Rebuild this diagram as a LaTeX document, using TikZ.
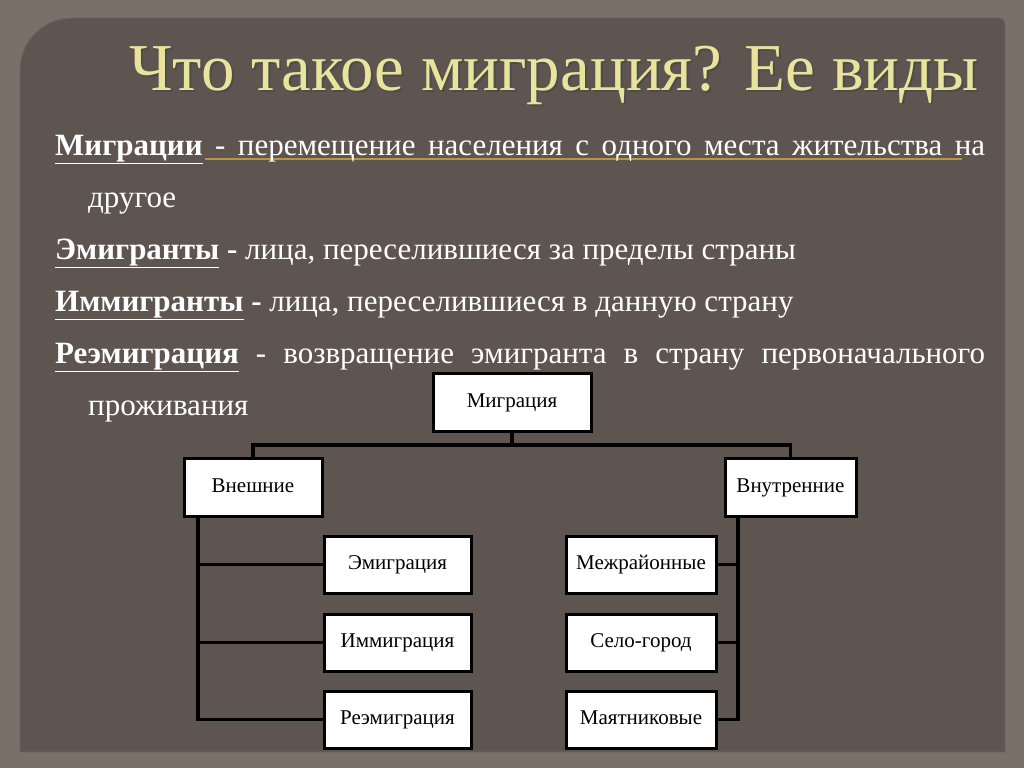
\documentclass[tikz,border=0pt]{standalone}
\usepackage{fontspec}
\setmainfont{Liberation Serif}
\begin{document}
\begin{tikzpicture}[x=1pt,y=-1pt,
  box/.style={draw=black,line width=3pt,fill=white,inner sep=0pt,text height=14pt,text depth=4pt,font=\fontsize{21}{24}\selectfont},
  conn/.style={draw=black,line width=3.5pt},
  body/.style={anchor=base west,inner sep=0pt,text=white,font=\fontsize{31}{34}\selectfont}]
\definecolor{outerbg}{HTML}{7A7069}
\definecolor{panel}{HTML}{5E5551}
\definecolor{titley}{HTML}{E9E39C}
\definecolor{gold}{HTML}{B8963E}
\fill[outerbg] (0,0) rectangle (1024,768);
\useasboundingbox (0,0) rectangle (1024,768);
\fill[panel,draw=black!60,line width=0.8pt] (20,70) arc[start angle=180,end angle=90,radius=52pt] -- (999,18) arc[start angle=90,end angle=0,radius=6pt] -- (1005,752) -- (20,752) -- cycle;
% title
\node[anchor=base,inner sep=0pt,text=black!70,font=\fontsize{67}{72}\selectfont] (tsh) at (556,92) {Что такое миграция? Ее виды};
\node[anchor=base,inner sep=0pt,text=titley,font=\fontsize{67}{72}\selectfont] (title) at (554,90) {Что такое миграция? Ее виды};
% body
\draw[gold,line width=1.5pt] (205,159) -- (962,159);
\node[body] (l1) at (55,155) {\makebox[930pt][s]{\underline{\textbf{Миграции}} - перемещение населения с одного места жительства на}};
\node[body] (l2) at (88,207) {другое};
\node[body] (l3) at (55,259) {\underline{\textbf{Эмигранты}} \textbf{-} лица, переселившиеся за пределы страны};
\node[body] (l4) at (55,311) {\underline{\textbf{Иммигранты}} \textbf{-} лица, переселившиеся в данную страну};
\node[body] (l5) at (55,363) {\makebox[930pt][s]{\underline{\textbf{Реэмиграция}} - возвращение эмигранта в страну первоначального}};
\node[body] (l6) at (88,415) {проживания};
% boxes
\node[box,minimum width=158pt,minimum height=58pt] (m) at (512,402.5) {Миграция};
\node[box,minimum width=138pt,minimum height=58pt] (ext) at (253,487) {Внешние};
\node[box,minimum width=131pt,minimum height=58pt] (int) at (790.5,487) {Внутренние};
\node[box,minimum width=147pt,minimum height=57pt] (e1) at (397.5,564.5) {Эмиграция};
\node[box,minimum width=147pt,minimum height=57pt] (e2) at (397.5,642.5) {Иммиграция};
\node[box,minimum width=147pt,minimum height=57pt] (e3) at (397.5,719.5) {Реэмиграция};
\node[box,minimum width=150pt,minimum height=57pt] (i1) at (641,564.5) {Межрайонные};
\node[box,minimum width=150pt,minimum height=57pt] (i2) at (641,642.5) {Село-город};
\node[box,minimum width=150pt,minimum height=57pt] (i3) at (641,719.5) {Маятниковые};
\coordinate (jn) at (512,445);
\coordinate (lt) at (198,719.5);
\coordinate (rt) at (738,719.5);
% connectors
\draw[conn] (m.south) -- (jn);
\draw[conn] (ext.north) -- (ext.north |- jn) -- (int.north |- jn) -- (int.north);
\draw[conn] (ext.south -| lt) -- (lt) -- (e3.west);
\draw[conn] (e1.west) -- (e1.west -| lt);
\draw[conn] (e2.west) -- (e2.west -| lt);
\draw[conn] (int.south -| rt) -- (rt) -- (i3.east);
\draw[conn] (i1.east) -- (i1.east -| rt);
\draw[conn] (i2.east) -- (i2.east -| rt);
\end{tikzpicture}
\end{document}
